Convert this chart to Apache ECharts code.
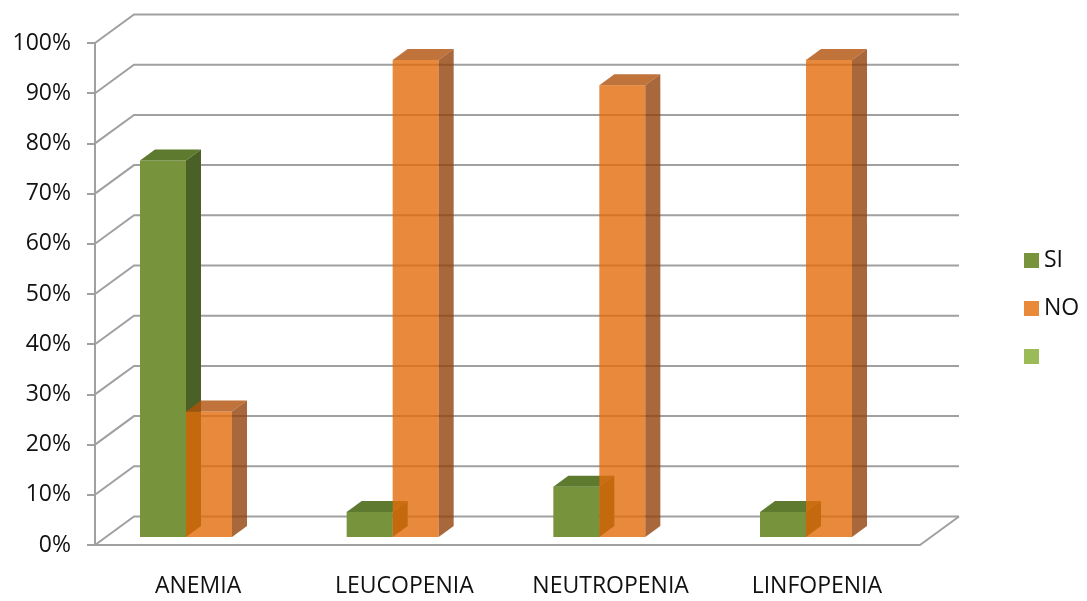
<!DOCTYPE html>
<html>
<head>
<meta charset="utf-8">
<script src="https://cdn.jsdelivr.net/npm/echarts@6/dist/echarts.min.js"></script>
<style>
  html, body { margin: 0; padding: 0; background: #ffffff; }
  #container { width: 1087px; height: 601px; }
</style>
</head>
<body>
<div id="container"></div>
<script>
var myChart = echarts.init(document.getElementById('container'));

// datos
const categories = ['ANEMIA', 'LEUCOPENIA', 'NEUTROPENIA', 'LINFOPENIA'];
const siValues = [0.75, 0.05, 0.10, 0.05];
const noValues = [0.25, 0.95, 0.90, 0.95];
const yTicks = [0, 0.1, 0.2, 0.3, 0.4, 0.5, 0.6, 0.7, 0.8, 0.9, 1];

// profundidad de la pared y de las barras
const WALL_DX = 39, WALL_DY = -28.5;
const BAR_DX = 15, BAR_DY = -11;
const BAR_W = 46;

const colors = {
  SI: { front: '#77933C', top: '#5E7A2F', side: '#4B6026' },
  NO: { front: 'rgba(228,108,10,0.8)', top: 'rgba(176,81,10,0.8)', side: 'rgba(146,66,10,0.8)' }
};

function wallItem(params, api) {
  const v = api.value(1);
  const p = api.coord([0, v]);
  const band = api.size([1, 0])[0];
  const xl = p[0] - band / 2;
  const xr = xl + categories.length * band;
  const y = p[1];
  const children = [{
    type: 'polyline',
    shape: { points: [[xl, y], [xl + WALL_DX, y + WALL_DY], [xr + WALL_DX, y + WALL_DY]] },
    style: { stroke: '#A0A0A0', lineWidth: 2, fill: null }
  }];
  if (v === 0) {
    children.push({
      type: 'line',
      shape: { x1: xr, y1: y, x2: xr + WALL_DX, y2: y + WALL_DY },
      style: { stroke: '#A0A0A0', lineWidth: 2 }
    });
  }
  return { type: 'group', children: children };
}

function barRenderer(key, side) {
  return function (params, api) {
    const idx = api.value(0);
    const top = api.coord([idx, api.value(1)]);
    const base = api.coord([idx, 0]);
    const x0 = side < 0 ? top[0] - BAR_W : top[0];
    const x1 = x0 + BAR_W;
    const yt = top[1], yb = base[1];
    const c = colors[key];
    return {
      type: 'group',
      children: [
        { type: 'polygon', shape: { points: [[x0, yt], [x1, yt], [x1, yb], [x0, yb]] }, style: { fill: c.front } },
        { type: 'polygon', shape: { points: [[x0, yt], [x1, yt], [x1 + BAR_DX, yt + BAR_DY], [x0 + BAR_DX, yt + BAR_DY]] }, style: { fill: c.top } },
        { type: 'polygon', shape: { points: [[x1, yt], [x1 + BAR_DX, yt + BAR_DY], [x1 + BAR_DX, yb + BAR_DY], [x1, yb]] }, style: { fill: c.side } }
      ]
    };
  };
}

const option = {
  animation: false,
  textStyle: { fontFamily: 'Open Sans', color: '#000000' },
  grid: [
    { left: 95, right: 167, top: 43, bottom: 56 },
    { left: 82.67, right: 177.67, top: 35, bottom: 64 }
  ],
  xAxis: [
    {
      type: 'category', gridIndex: 0, data: categories,
      axisLine: { lineStyle: { color: '#A0A0A0', width: 2 } },
      axisTick: { length: 9, lineStyle: { color: '#A0A0A0', width: 2 } },
      axisLabel: { fontSize: 23, color: '#111', margin: 30 }
    },
    { type: 'category', gridIndex: 1, data: categories, show: false }
  ],
  yAxis: [
    {
      type: 'value', gridIndex: 0, min: 0, max: 1, interval: 0.1,
      axisLine: { show: true, lineStyle: { color: '#A0A0A0', width: 2 } },
      axisTick: { show: true, length: 8, lineStyle: { color: '#A0A0A0', width: 2 } },
      splitLine: { show: false },
      axisLabel: { fontSize: 23, color: '#111', margin: 24, formatter: v => Math.round(v * 100) + '%' }
    },
    { type: 'value', gridIndex: 1, min: 0, max: 1, show: false }
  ],
  legend: {
    orient: 'vertical', left: 1019, top: 244,
    itemWidth: 15, itemHeight: 15, itemGap: 25,
    icon: 'rect',
    textStyle: { fontSize: 23, color: '#111', fontFamily: 'Open Sans' },
    data: [
      { name: 'SI', itemStyle: { color: '#77933C' } },
      { name: 'NO', itemStyle: { color: '#E98A3B' } },
      { name: ' ', itemStyle: { color: '#9BBB59' } }
    ]
  },
  series: [
    {
      type: 'custom', xAxisIndex: 0, yAxisIndex: 0, z: 1, silent: true,
      renderItem: wallItem,
      data: yTicks.map(v => [0, v])
    },
    {
      name: 'SI', type: 'custom', xAxisIndex: 1, yAxisIndex: 1, z: 3,
      itemStyle: { color: '#77933C' },
      renderItem: barRenderer('SI', -1),
      data: siValues.map((v, i) => [i, v])
    },
    {
      name: 'NO', type: 'custom', xAxisIndex: 1, yAxisIndex: 1, z: 4,
      itemStyle: { color: '#E98A3B' },
      renderItem: barRenderer('NO', 1),
      data: noValues.map((v, i) => [i, v])
    },
    {
      name: ' ', type: 'custom', xAxisIndex: 1, yAxisIndex: 1,
      itemStyle: { color: '#9BBB59' },
      renderItem: function () { return null; },
      data: []
    }
  ]
};

myChart.setOption(option);
</script>
</body>
</html>
